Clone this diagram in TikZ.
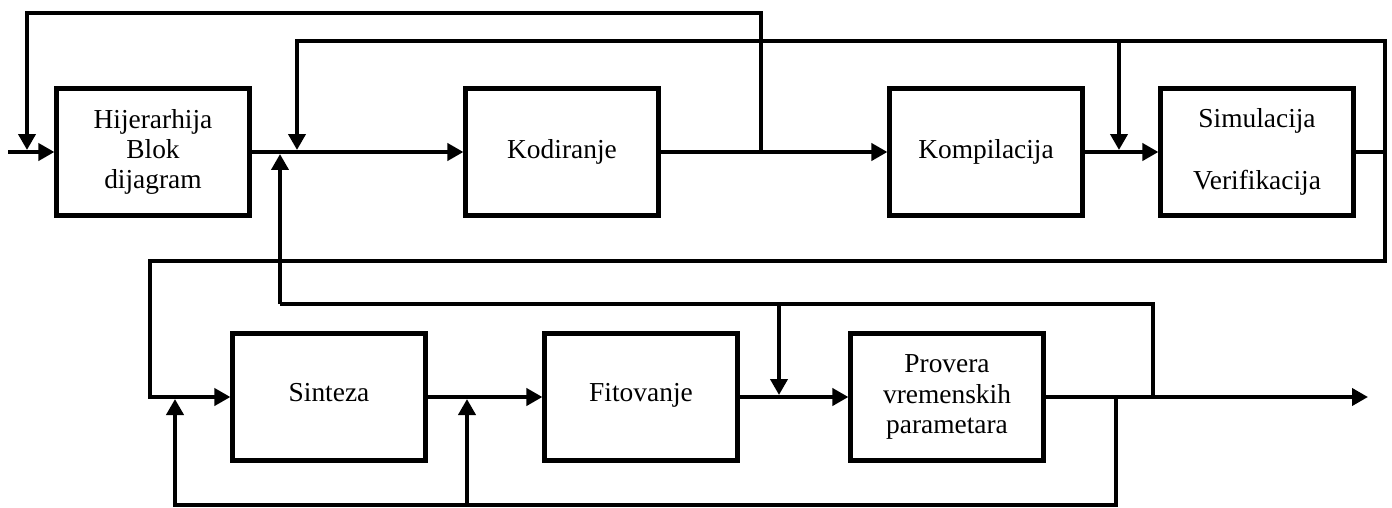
\documentclass[tikz,border=0pt]{standalone}
\usepackage{fontspec}
\setmainfont{Liberation Serif}
\usetikzlibrary{arrows.meta}

\begin{document}
\begin{tikzpicture}
[ x=0.02cm, y=-0.02cm,
>={Triangle[length=0.32cm,width=0.34cm]},
line width=2.2pt,
block/.style ={rectangle, draw=black, line width=2.4pt,
 minimum width=3.86cm, minimum height=2.54cm, align=center,
 font=\fontsize{15.6}{17.2}\selectfont},
]
\useasboundingbox (0,0) rectangle (1392,507);

% row 1
\node (hijer) [block] at (153,152) {Hijerarhija\\Blok\\dijagram};
\node (kod)   [block] at (562,152) {Kodiranje};
\node (komp)  [block] at (986,152) {Kompilacija};
\node (sim)   [block] at (1257,152) {Simulacija\\[0.62cm]Verifikacija};
% row 2
\node (sint)  [block] at (329,397) {\raisebox{0.2cm}{Sinteza}};
\node (fit)   [block] at (641,397) {\raisebox{0.2cm}{Fitovanje}};
\node (prov)  [block] at (947,397) {Provera\\vremenskih\\parametara};

% points on the lines
\coordinate (in) at (8,152);
\coordinate (m1) at (27,150);
\coordinate (m2) at (297,150);
\coordinate (m3) at (280,154);
\coordinate (m4) at (761,152);
\coordinate (m5) at (1119,150);
\coordinate (t1) at (27,13);
\coordinate (t3) at (1119,41);
\coordinate (t4) at (1385,41);
\coordinate (m6) at (1385,152);
\coordinate (c1) at (150,261);
\coordinate (c2) at (280,304);
\coordinate (c3) at (779,304);
\coordinate (n0) at (175,399);
\coordinate (n2) at (467,399);
\coordinate (n3) at (779,395);
\coordinate (n4) at (1116,397);
\coordinate (n5) at (1153,397);
\coordinate (out) at (1368,397);
\coordinate (d1) at (175,505);
\coordinate (d2) at (467,505);

\draw[->] (in) -- (hijer);
\draw[->] (hijer) -- (kod);
\draw[->] (kod) -- (komp);
\draw[->] (komp) -- (sim);
\draw[->] (m4) |- (t1) -- (m1);
\draw[->] (sim.east) -| (t4) -| (m2);
\draw[->] (t3) -- (m5);
\draw[->] (m6) |- (c1) |- (sint.west);

\draw[->] (sint) -- (fit);
\draw[->] (fit) -- (prov);
\draw[->] (prov.east) -- (out);
\draw[->] (c2) -- (m3);
\draw (c2) -| (n5);
\draw[->] (c3) -- (n3);
\draw[->] (n4) |- (d1) -- (n0);
\draw[->] (d2) -- (n2);
\end{tikzpicture}
\end{document}
